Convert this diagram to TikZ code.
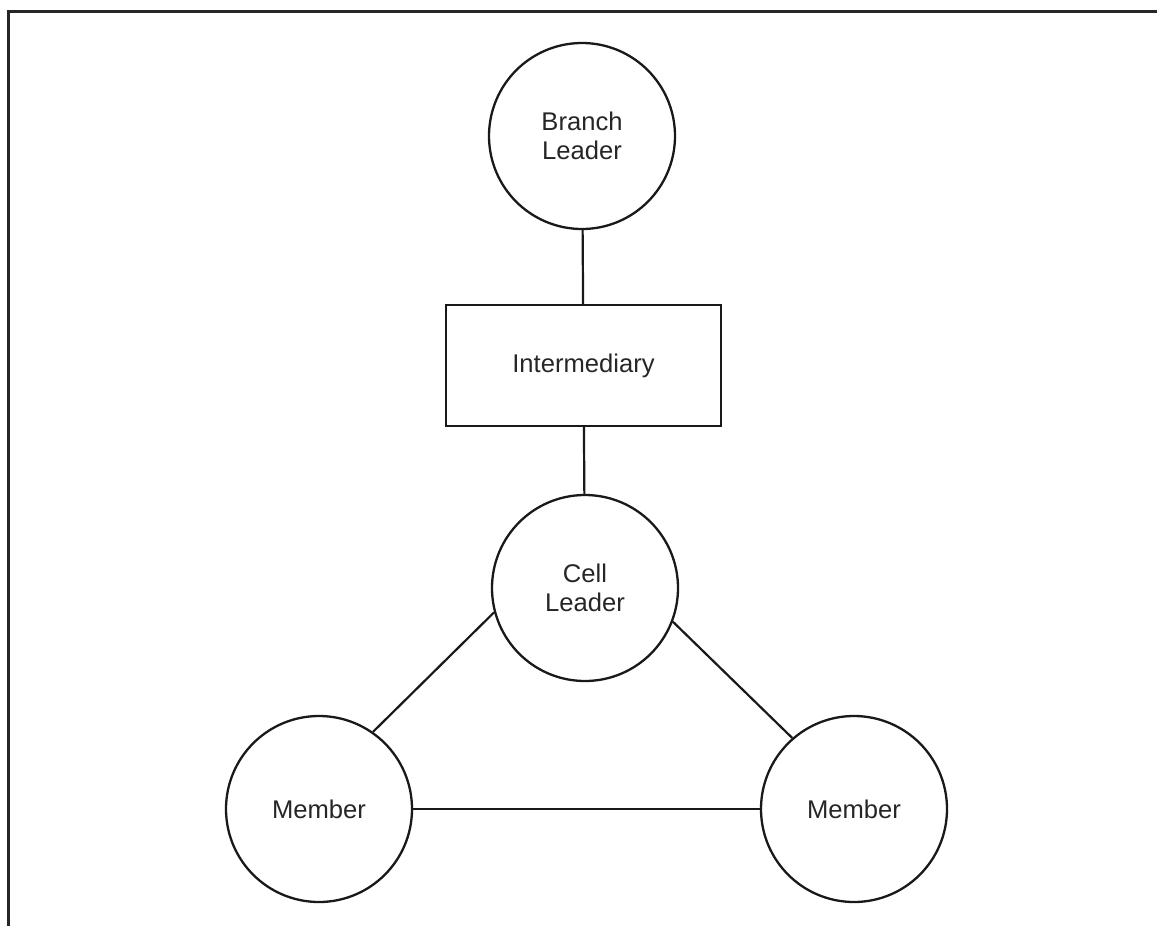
\documentclass[tikz,border=0pt]{standalone}
\usepackage{fontspec}
\setmainfont{Liberation Sans}
\begin{document}
\begin{tikzpicture}[x=0.5pt,y=-0.5pt,
  lbl/.style={font=\fontsize{12.8}{14.5}\selectfont, text=black!85, align=center},
  role/.style={circle, draw=black!90, line width=1.15pt, minimum size=93pt, inner sep=0pt, lbl},
  relay/.style={rectangle, draw=black!90, line width=1.15pt, minimum width=137.5pt, minimum height=60.5pt, inner sep=0pt, lbl},
  link/.style={draw=black!90, line width=1.1pt},
  frame/.style={draw=black!85, line width=1.5pt}]
  \useasboundingbox (0,0) rectangle (1157,926);
  % open frame: top and left edges
  \draw[frame] (8.5,926) -- (8.5,11) -- (1157,11);

  \node[role]  (bl)   at (582,136) {Branch\\Leader};
  \node[relay] (mid)  at (583.5,365.5) {Intermediary};
  \node[role]  (cell) at (585,588) {Cell\\Leader};
  \node[role]  (m1)   at (319,809) {Member};
  \node[role]  (m2)   at (854,809) {Member};

  \draw[link] (bl) -- (mid);
  \draw[link] (mid) -- (cell);
  \draw[link] (cell.195) -- (m1.55);
  \draw[link] (cell.-21) -- (m2.131);
  \draw[link] (m1) -- (m2);
\end{tikzpicture}
\end{document}
